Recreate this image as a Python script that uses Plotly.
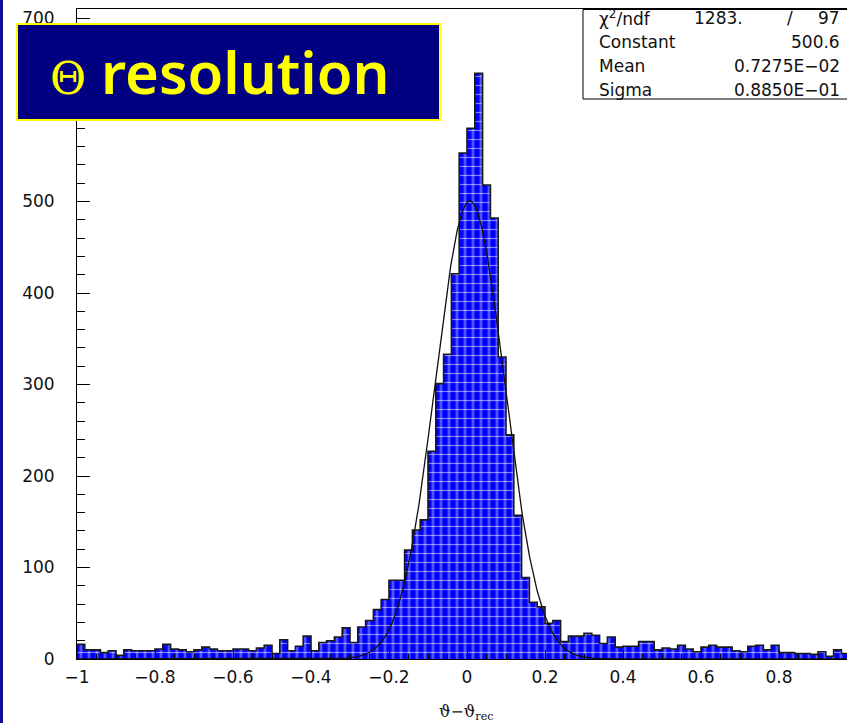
import numpy as np
import plotly.graph_objects as go

# ---- histogram data: 100 bins of width 0.02 on [-1, 1] ----
bin_lo = -1.0
bin_hi = 1.0
n_bins = 100
counts = [
    16, 10, 10, 7, 9, 4, 10, 9, 9, 9,
    11, 16, 11, 10, 8, 10, 13, 11, 9, 9,
    11, 11, 9, 12, 15, 6, 21, 9, 14, 25,
    9, 18, 20, 24, 34, 18, 35, 42, 54, 65,
    86, 86, 119, 141, 152, 227, 301, 333, 421, 553,
    580, 640, 518, 482, 330, 245, 157, 89, 62, 57,
    39, 42, 19, 25, 25, 28, 26, 17, 24, 13,
    14, 14, 19, 19, 10, 12, 11, 15, 11, 8,
    13, 15, 13, 13, 9, 8, 14, 15, 10, 15,
    7, 7, 6, 6, 5, 8, 3, 10, 6, 7,
]

# ---- gaussian fit results ----
chi2 = "1283."
ndf = "97"
fit_constant = 500.6
fit_mean = 0.7275e-02
fit_sigma = 0.8850e-01
stat_labels = ["χ<sup>2</sup>/ndf", "Constant", "Mean", "Sigma"]
stat_values = ["500.6", "0.7275E−02", "0.8850E−01"]

# ---- axis ticks ----
x_tick_vals = [-1.0, -0.8, -0.6, -0.4, -0.2, 0.0, 0.2, 0.4, 0.6, 0.8]
x_tick_text = ["−1", "−0.8", "−0.6", "−0.4", "−0.2", "0", "0.2", "0.4", "0.6", "0.8"]
y_tick_vals = [0, 100, 200, 300, 400, 500, 600, 700]
y_tick_text = ["0", "100", "200", "300", "400", "500", "600", "700"]

# ---- page geometry (pixels) ----
W, H = 847, 723
ML, MR, MT, MB = 77, 0, 9, 64
PW = W - ML - MR
PH = H - MT - MB


def px_x(p):
    return (p - ML) / PW


def px_y(p):
    return (H - MB - p) / PH


edges = np.linspace(bin_lo, bin_hi, n_bins + 1)
centers = 0.5 * (edges[:-1] + edges[1:])
width = edges[1] - edges[0]

# outline of the histogram as a step path
step_x = [edges[0]]
step_y = [0]
for i, c in enumerate(counts):
    step_x += [edges[i], edges[i + 1]]
    step_y += [c, c]
step_x.append(edges[-1])
step_y.append(0)

# fitted gaussian
gx = np.linspace(bin_lo, bin_hi, 1601)
gy = fit_constant * np.exp(-0.5 * ((gx - fit_mean) / fit_sigma) ** 2)

PAW_FONT = "DejaVu Sans"

fig = go.Figure()
fig.add_trace(go.Bar(
    x=centers, y=counts, width=width,
    marker=dict(
        color="#0000ff", line=dict(width=0),
        pattern=dict(shape="|", fgcolor="#a8a8ff", size=8, solidity=0.35,
                     fillmode="overlay"),
    ),
    hoverinfo="skip", showlegend=False,
))
fig.add_trace(go.Bar(
    x=centers, y=counts, width=width,
    marker=dict(
        color="rgba(0,0,0,0)", line=dict(width=0),
        pattern=dict(shape="-", fgcolor="#ffffff", size=9, solidity=0.13,
                     fillmode="overlay"),
    ),
    hoverinfo="skip", showlegend=False,
))
fig.add_trace(go.Scatter(
    x=step_x, y=step_y, mode="lines",
    line=dict(color="#1a1a1a", width=1.6),
    hoverinfo="skip", showlegend=False,
))
fig.add_trace(go.Scatter(
    x=gx, y=gy, mode="lines",
    line=dict(color="#111111", width=1.3),
    hoverinfo="skip", showlegend=False,
))

tick_font = dict(family=PAW_FONT, size=17, color="#111111")

fig.update_layout(
    width=W, height=H,
    margin=dict(l=ML, r=MR, t=MT, b=MB, pad=0),
    paper_bgcolor="white", plot_bgcolor="white",
    barmode="overlay", bargap=0,
    showlegend=False,
    xaxis=dict(
        range=[bin_lo, bin_lo + PW / 390.0],
        showline=True, linecolor="black", linewidth=1, mirror=True,
        ticks="inside", ticklen=9, tickcolor="black", tickwidth=1,
        tickvals=x_tick_vals, ticktext=x_tick_text,
        minor=dict(dtick=0.05, tick0=0, ticks="inside", ticklen=5,
                   tickcolor="black", tickwidth=1),
        showgrid=False, zeroline=False, tickfont=tick_font,
        ticklabelstandoff=3,
    ),
    yaxis=dict(
        range=[0, PH / 0.915],
        showline=True, linecolor="black", linewidth=1, mirror=False,
        ticks="inside", ticklen=13, tickcolor="black", tickwidth=1,
        tickvals=y_tick_vals, ticktext=y_tick_text,
        minor=dict(dtick=20, tick0=0, ticks="inside", ticklen=8,
                   tickcolor="black", tickwidth=1),
        showgrid=False, zeroline=False, tickfont=tick_font,
        ticklabelstandoff=18,
    ),
)

shapes = [
    # slide edge on the left
    dict(type="rect", xref="paper", yref="paper",
         x0=px_x(0), x1=px_x(3), y0=px_y(H), y1=px_y(0),
         fillcolor="#0c0c96", line=dict(width=0), layer="above"),
    # statistics box
    dict(type="rect", xref="paper", yref="paper",
         x0=px_x(583), x1=px_x(870), y0=px_y(99), y1=px_y(9.5),
         fillcolor="white", line=dict(color="black", width=1), layer="above"),
    # title box
    dict(type="rect", xref="paper", yref="paper",
         x0=px_x(17), x1=px_x(440), y0=px_y(120), y1=px_y(24),
         fillcolor="#000080", line=dict(color="#ffff00", width=2), layer="above"),
]

stat_font = dict(family=PAW_FONT, size=17, color="#111111")
line_y = [18, 42, 66, 90]
ann = []
for lab, yy in zip(stat_labels, line_y):
    ann.append(dict(xref="paper", yref="paper", x=px_x(597), y=px_y(yy),
                    text=lab, showarrow=False, xanchor="left", yanchor="middle",
                    font=stat_font))
# chi2 / ndf line
ann.append(dict(xref="paper", yref="paper", x=px_x(745), y=px_y(line_y[0]),
                text=chi2, showarrow=False, xanchor="right", yanchor="middle",
                font=stat_font))
ann.append(dict(xref="paper", yref="paper", x=px_x(790), y=px_y(line_y[0]),
                text="/", showarrow=False, xanchor="center", yanchor="middle",
                font=stat_font))
ann.append(dict(xref="paper", yref="paper", x=px_x(842), y=px_y(line_y[0]),
                text=ndf, showarrow=False, xanchor="right", yanchor="middle",
                font=stat_font))
for val, yy in zip(stat_values, line_y[1:]):
    ann.append(dict(xref="paper", yref="paper", x=px_x(842), y=px_y(yy),
                    text=val, showarrow=False, xanchor="right", yanchor="middle",
                    font=stat_font))

# title
ann.append(dict(xref="paper", yref="paper", x=px_x(68), y=px_y(78),
                text="Θ", showarrow=False, xanchor="center", yanchor="middle",
                font=dict(family="DejaVu Serif", size=44, color="#ffff00")))
ann.append(dict(xref="paper", yref="paper", x=px_x(99), y=px_y(72),
                text="resolution", showarrow=False, xanchor="left", yanchor="middle",
                font=dict(family="Noto Sans", size=58, color="#ffff00",
                          weight=600)))

# x axis title
ann.append(dict(xref="paper", yref="paper", x=px_x(467), y=px_y(700),
                text="ϑ−ϑ<sub>rec</sub>", showarrow=False,
                xanchor="center", yanchor="top",
                font=dict(family="DejaVu Serif", size=16, color="#111111")))

fig.update_layout(shapes=shapes, annotations=ann)

fig.write_html("out.html")
